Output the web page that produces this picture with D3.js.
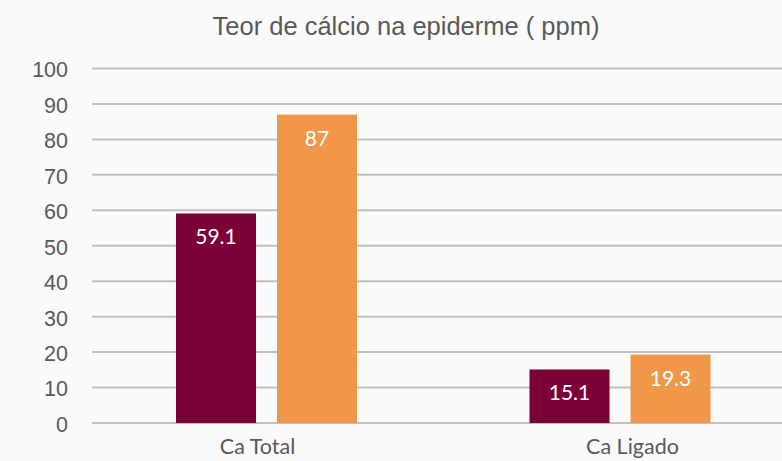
<!DOCTYPE html>
<html>
<head>
<meta charset="utf-8">
<script src="https://cdn.jsdelivr.net/npm/d3@7"></script>
<style>
  html, body { margin: 0; padding: 0; background: #fafafa; }
  svg { display: block; }
</style>
</head>
<body>
<div id="chart"></div>
<script>
// chart data
const categories = ["Ca Total", "Ca Ligado"];
const seriesNames = ["Série 1", "Série 2"];
const series1 = [59.1, 15.1];
const series2 = [87, 19.3];
const yTicks = [0, 10, 20, 30, 40, 50, 60, 70, 80, 90, 100];
const colors = ["#7a0036", "#f0974a"];

document.addEventListener('DOMContentLoaded', function () {
    const width = 782, height = 461;

    const svg = d3.select("#chart")
        .append("svg")
        .attr("width", width)
        .attr("height", height);

    svg.append("rect")
        .attr("width", width)
        .attr("height", height)
        .attr("fill", "#fafafa");

    // scales (plot runs past the right edge, as in the original crop)
    const y = d3.scaleLinear().domain([0, 100]).range([423, 68.5]);
    const x = d3.scaleBand().domain(categories).range([89.75, 796.75]);
    const xInner = d3.scaleBand().domain(seriesNames).range([-90.5, 90.5]).paddingInner(21 / 101);
    const xLabel = d3.scalePoint().domain(categories).range([257.5, 632.5]);

    // title
    svg.append("text")
        .attr("x", 406)
        .attr("y", 35)
        .attr("text-anchor", "middle")
        .style("font-family", "'Liberation Sans', Arial, sans-serif")
        .style("font-size", "25.5px")
        .style("fill", "#595959")
        .text("Teor de cálcio na epiderme ( ppm)");

    // gridlines
    svg.append("g")
        .selectAll("line")
        .data(yTicks)
        .enter()
        .append("line")
        .attr("x1", 92)
        .attr("x2", width)
        .attr("y1", d => y(d))
        .attr("y2", d => y(d))
        .attr("stroke", "#c0c0c0")
        .attr("stroke-width", 2);

    // y labels
    const yAxis = d3.axisLeft(y).tickValues(yTicks).tickSize(0).tickPadding(0);
    const yg = svg.append("g")
        .attr("transform", "translate(68,1.5)")
        .call(yAxis);
    yg.select(".domain").remove();
    yg.selectAll("text")
        .style("font-family", "'Liberation Sans', Arial, sans-serif")
        .style("font-size", "21.5px")
        .style("fill", "#595959");

    // bars
    const rows = categories.map((c, i) => ({
        cat: c,
        vals: [
            { name: seriesNames[0], value: series1[i], color: colors[0] },
            { name: seriesNames[1], value: series2[i], color: colors[1] }
        ]
    }));

    const groups = svg.selectAll(".group")
        .data(rows)
        .enter()
        .append("g")
        .attr("class", "group")
        .attr("transform", d => "translate(" + (x(d.cat) + x.bandwidth() / 2) + ",0)");

    groups.selectAll("rect")
        .data(d => d.vals)
        .enter()
        .append("rect")
        .attr("x", d => xInner(d.name))
        .attr("width", xInner.bandwidth())
        .attr("y", d => y(d.value))
        .attr("height", d => y(0) - y(d.value))
        .attr("fill", d => d.color);

    groups.selectAll(".val")
        .data(d => d.vals)
        .enter()
        .append("text")
        .attr("class", "val")
        .attr("x", d => xInner(d.name) + xInner.bandwidth() / 2)
        .attr("y", d => y(d.value) + 31)
        .attr("text-anchor", "middle")
        .style("font-family", "Lato, 'Open Sans', sans-serif")
        .style("font-size", "21px")
        .style("fill", "#ffffff")
        .text(d => d.value);

    // x labels
    svg.append("g")
        .selectAll("text")
        .data(categories)
        .enter()
        .append("text")
        .attr("x", d => xLabel(d))
        .attr("y", 454)
        .attr("text-anchor", "middle")
        .style("font-family", "Lato, 'Open Sans', sans-serif")
        .style("font-size", "21.5px")
        .style("fill", "#595959")
        .text(d => d);
});
</script>
</body>
</html>
